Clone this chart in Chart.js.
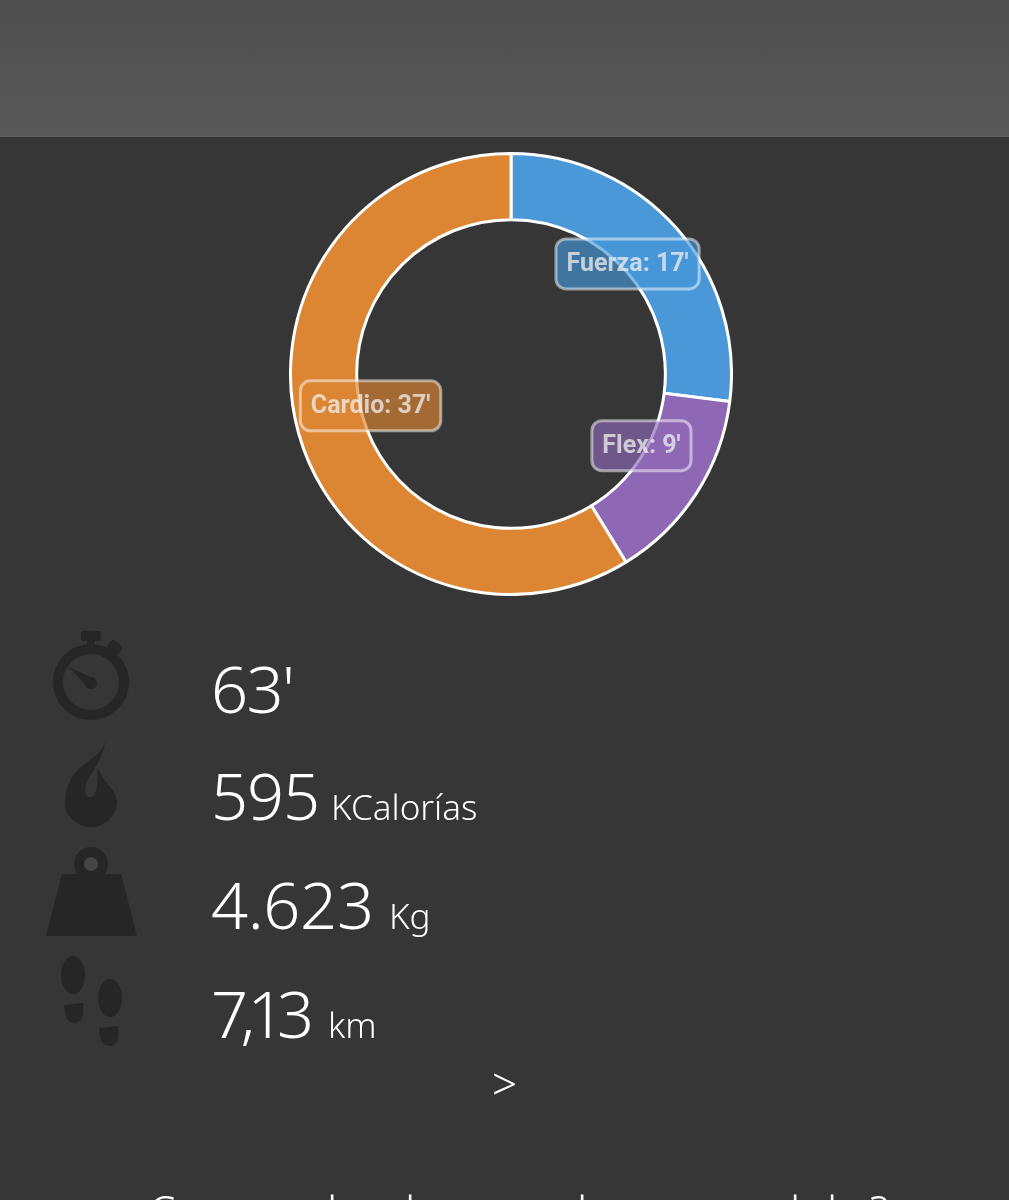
<!DOCTYPE html>
<html>
<head>
<meta charset="utf-8">
<script src="https://cdn.jsdelivr.net/npm/chart.js@4"></script>
<style>
  html, body { margin: 0; padding: 0; width: 1009px; height: 1200px; overflow: hidden; background: #363636; }
  #topbar { position: absolute; left: 0; top: 0; width: 1009px; height: 136px; background: linear-gradient(#4f4f4f, #585858); border-bottom: 1px solid #5f5f5f; }
  #chartBox { position: absolute; left: 289px; top: 152px; width: 444px; height: 444px; }
  #page { position: absolute; left: 0; top: 0; }
  .big { font: 300 65px "Noto Sans", sans-serif; fill: #fff; }
  .unit { font: 300 35px "Noto Sans", sans-serif; fill: #fff; }
  .tail { font: 300 44px "Noto Sans", sans-serif; fill: #fff; }
  .icon { fill: #262626; }
</style>
</head>
<body>
<div id="topbar"></div>
<div id="chartBox"><canvas id="myChart" width="444" height="444"></canvas></div>

<svg id="page" width="1009" height="1200">
  <!-- stopwatch -->
  <circle cx="91" cy="682" r="33" fill="none" stroke="#262626" stroke-width="10"/>
  <rect class="icon" x="81" y="631" width="20" height="10" rx="2"/>
  <rect class="icon" x="87" y="640" width="8" height="8"/>
  <rect class="icon" x="108" y="642" width="14" height="10" rx="3" transform="rotate(40 115 647)"/>
  <rect class="icon" x="108" y="650" width="6" height="6" transform="rotate(40 111 653)"/>
  <circle class="icon" cx="91" cy="683" r="6"/>
  <path class="icon" d="M69 667 L95 679 L88 688 Z"/>
  <!-- flame -->
  <path class="icon" d="M106 738 C104 752 92 758 80 768 C70 777 65 790 65 802 C65 817 78 827 91 827 C105 827 117 816 117 802 C117 790 104 784 98 768 C97 778 99 792 92 797 C86 799 84 792 86 785 C88 775 103 762 106 738 Z"/>
  <!-- weight -->
  <circle cx="91" cy="864" r="12" fill="#454545" stroke="#262626" stroke-width="10"/>
  <path class="icon" d="M62 874 L121 874 L137 936 L46 936 Z"/>
  <!-- footprints -->
  <ellipse class="icon" cx="73" cy="975" rx="12" ry="19"/>
  <path class="icon" d="M64 1005 L83 1003 C84 1012 84 1023 74 1023 C66 1023 65 1013 64 1005 Z"/>
  <ellipse class="icon" cx="110" cy="998" rx="12" ry="19"/>
  <path class="icon" d="M99 1028 L118 1026 C119 1036 119 1046 109 1046 C101 1046 100 1037 99 1028 Z"/>

  <text class="big" x="211" y="713" textLength="84" lengthAdjust="spacing">63'</text>
  <text class="big" x="211" y="820" textLength="109" lengthAdjust="spacing">595</text>
  <text class="unit" x="331" y="820">KCalorías</text>
  <text class="big" x="211" y="929" textLength="163" lengthAdjust="spacing">4.623</text>
  <text class="unit" x="389" y="929">Kg</text>
  <text class="big" x="211" y="1038" textLength="103" lengthAdjust="spacing">7,13</text>
  <text class="unit" x="328" y="1038">km</text>
  <text class="tail" x="492" y="1100">&gt;</text>
  <!-- last line is cut off by the photo and cannot be read, only the tops of these glyphs show -->
  <text class="tail" x="148" y="1228">C</text>
  <text class="tail" x="327" y="1228">l</text>
  <text class="tail" x="405" y="1228">l</text>
  <text class="tail" x="577" y="1228">l</text>
  <text class="tail" x="790" y="1228">l</text>
  <text class="tail" x="827" y="1228">l</text>
  <text class="tail" x="870" y="1228">?</text>
</svg>

<script>
const categories = ['Fuerza', 'Flex', 'Cardio'];
const minutes = [17, 9, 37];
const sliceColors = ['#4a98d8', '#8f68b5', '#dc8634'];
const boxColors = ['rgba(70,150,215,0.66)', 'rgba(143,104,181,0.66)', 'rgba(220,134,52,0.66)'];
// where each label box sits, relative to its slice centre
const labelOffsets = [[-24, 14], [-27, -30], [40, -19]];

const sliceLabels = {
  id: 'sliceLabels',
  afterDraw(chart) {
    const ctx = chart.ctx;
    const arcs = chart.getDatasetMeta(0).data;
    ctx.save();
    ctx.font = 'bold 25px Roboto';
    ctx.textAlign = 'center';
    ctx.textBaseline = 'middle';
    arcs.forEach((arc, i) => {
      const c = arc.getCenterPoint();
      const x = c.x + labelOffsets[i][0];
      const y = c.y + labelOffsets[i][1];
      const text = categories[i] + ': ' + minutes[i] + "'";
      const w = ctx.measureText(text).width + 21;
      const h = 50;
      ctx.beginPath();
      ctx.roundRect(x - w / 2, y - h / 2, w, h, 10);
      ctx.fillStyle = boxColors[i];
      ctx.fill();
      ctx.lineWidth = 3;
      ctx.strokeStyle = 'rgba(255,255,255,0.5)';
      ctx.stroke();
      ctx.fillStyle = 'rgba(240,240,240,0.75)';
      ctx.fillText(text, x, y + 1);
    });
    ctx.restore();
  }
};

new Chart(document.getElementById('myChart').getContext('2d'), {
  type: 'doughnut',
  data: {
    labels: categories,
    datasets: [{
      data: minutes,
      backgroundColor: sliceColors,
      borderColor: '#ffffff',
      borderWidth: 3
    }]
  },
  options: {
    responsive: false,
    animation: false,
    cutout: '70%',
    plugins: {
      legend: { display: false },
      tooltip: { enabled: false }
    }
  },
  plugins: [sliceLabels]
});
</script>
</body>
</html>
